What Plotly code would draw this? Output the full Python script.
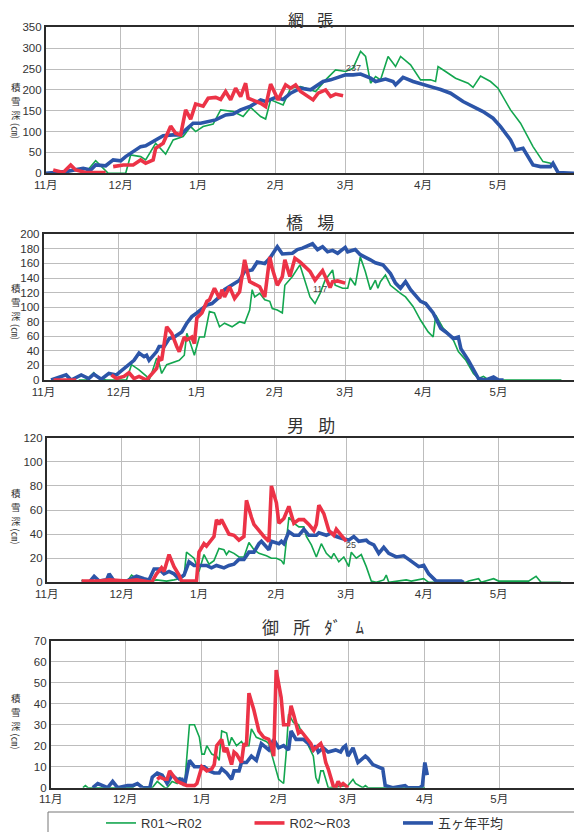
import plotly.graph_objects as go

# The page shows the figure 8px in from the top-left corner of the window,
# so the figure is sized to the visible area and positions are given in
# window pixels minus that offset.
OFF = 8
W, H = 582 - OFF, 832 - OFF

# ---------------- axis labels ----------------
month_ticks = [0, 30, 61, 92, 120, 151, 181]
month_labels = ["11月", "12月", "1月", "2月", "3月", "4月", "5月"]
titles = ["網\u2002\u2004張", "橋\u2002\u2004場", "男\u2002\u2004助", "御\u2002\u2004所\u2002\u2004ﾀﾞ\u2002\u2004ﾑ"]
series_names = ["R01～R02", "R02～R03", "五ヶ年平均"]
ytitle_chars = ["積", "雪", "深"]
ytitle_unit = "(㎝)"
y_max = [350, 200, 120, 70]
y_step = [50, 20, 20, 10]

# ---------------- 網張 ----------------
ami_g_day = [14, 16, 20, 23, 25, 32, 34, 38, 40, 44, 48, 51, 55, 58, 60, 63, 67, 70, 75, 79, 82, 86, 88, 90, 95, 98, 102, 108, 112, 116, 120, 123, 126, 128, 130, 132, 134, 137, 140, 142, 146, 150, 154, 156, 157, 160, 164, 169, 171, 174, 178, 181, 186, 190, 195, 199, 202, 204, 205]
ami_g_val = [0, 2, 30, 12, 0, 0, 44, 40, 32, 72, 46, 80, 88, 112, 100, 112, 118, 152, 148, 136, 158, 136, 130, 176, 164, 204, 208, 196, 224, 248, 244, 252, 292, 280, 216, 232, 224, 280, 256, 280, 260, 224, 224, 220, 256, 244, 228, 216, 206, 233, 220, 204, 152, 120, 64, 28, 24, 12, 0]
ami_r_day = [3, 7, 10, 12, 16, 24, 25, 27, 31, 35, 38, 40, 43, 44, 47, 50, 52, 54, 56, 58, 60, 63, 65, 68, 70, 72, 74, 76, 78, 80, 81, 86, 88, 90, 93, 96, 98, 100, 102, 107, 109, 112, 114, 116, 119]
ami_r_val = [8, 2, 20, 8, 2, 2, None, 16, 20, 20, 32, 24, 32, 60, 72, 113, 96, 92, 152, 130, 166, 161, 180, 182, 177, 196, 176, 204, 184, 216, 180, 168, 160, 214, 176, 212, 204, 212, 196, 176, 192, 200, 184, 190, 186]
ami_b_day = [0, 8, 15, 18, 20, 24, 27, 30, 32, 35, 38, 40, 43, 47, 51, 54, 56, 59, 62, 66, 68, 72, 75, 78, 82, 86, 88, 92, 95, 98, 102, 106, 111, 114, 117, 120, 123, 126, 130, 132, 136, 139, 140, 143, 147, 151, 155, 158, 162, 167, 171, 175, 179, 182, 186, 188, 191, 195, 198, 202, 203, 205, 212]
ami_b_val = [0, 4, 12, 8, 20, 18, 32, 30, 40, 52, 64, 66, 76, 90, 92, 92, 104, 120, 120, 124, 128, 140, 142, 152, 161, 176, 172, 182, 177, 192, 204, 200, 220, 224, 230, 236, 236, 238, 228, 220, 226, 220, 212, 230, 220, 212, 206, 201, 192, 172, 160, 148, 132, 112, 80, 56, 60, 20, 16, 16, 24, 2, 0]

# ---------------- 橋場 ----------------
has_g_day = [14, 17, 20, 22, 25, 33, 35, 38, 41, 42, 43, 45, 46, 47, 49, 51, 54, 56, 57, 58, 60, 62, 64, 66, 68, 70, 72, 75, 78, 80, 82, 83, 84, 86, 88, 90, 91, 93, 95, 96, 99, 102, 104, 106, 108, 110, 112, 115, 116, 119, 121, 122, 124, 126, 128, 130, 132, 133, 134, 136, 138, 140, 142, 144, 147, 150, 153, 155, 156, 159, 161, 163, 165, 168, 171, 173, 175, 177, 206]
has_g_val = [0, 0, 10, 2, 0, 0, 21, 14, 5, 0, 9, 30, 23, 9, 21, 23, 27, 34, 64, 55, 34, 59, 59, 94, 92, 73, 78, 73, 80, 78, 96, 124, 114, 119, 110, 108, 98, 96, 92, 130, 142, 158, 135, 114, 105, 119, 137, 151, 130, 126, 126, 140, 130, 169, 149, 124, 137, 126, 135, 144, 130, 124, 119, 114, 101, 82, 66, 59, 89, 71, 64, 55, 39, 27, 9, 2, 5, 0, 0]
has_r_day = [4, 13, 20, 27, 29, 32, 34, 36, 38, 41, 43, 45, 46, 47, 49, 51, 53, 54, 56, 57, 59, 60, 61, 63, 65, 66, 68, 70, 71, 72, 74, 76, 78, 80, 82, 86, 88, 90, 91, 93, 95, 96, 98, 100, 102, 104, 106, 108, 111, 113, 114, 115, 117, 120]
has_r_val = [0, 0, None, 7, 2, 5, 10, 2, 5, 0, 9, 16, 30, 27, 73, 64, 46, 39, 59, 55, 59, 50, 85, 92, 108, 110, 126, 112, 124, 114, 128, 112, 121, 165, 135, 128, 114, 169, 153, 130, 142, 165, 142, 167, 162, 156, 149, 137, 150, 135, 127, 135, 136, 133]
has_b_day = [3, 9, 11, 15, 18, 20, 23, 26, 29, 31, 34, 36, 38, 40, 41, 42, 45, 46, 48, 50, 52, 55, 57, 59, 61, 63, 65, 67, 70, 72, 75, 78, 80, 83, 85, 88, 90, 93, 95, 99, 101, 103, 107, 109, 111, 113, 115, 117, 120, 121, 124, 126, 130, 132, 135, 138, 140, 142, 144, 146, 150, 152, 155, 158, 160, 163, 165, 166, 169, 173, 176, 179, 181, 183]
has_b_val = [0, 7, 0, 7, 2, 8, 1, 9, 7, 13, 21, 27, 37, 32, 34, 27, 39, 46, 46, 57, 59, 66, 78, 87, 92, 98, 103, 105, 114, 124, 130, 137, 149, 151, 162, 160, 167, 183, 173, 174, 179, 181, 187, 179, 183, 176, 178, 174, 182, 176, 179, 172, 165, 161, 158, 146, 133, 126, 135, 124, 108, 105, 92, 71, 66, 57, 59, 43, 27, 2, 0, 4, 0, 0]

# ---------------- 男助 ----------------
osu_g_day = [14, 15, 32, 33, 34, 36, 40, 44, 48, 51, 53, 55, 56, 59, 61, 63, 65, 67, 69, 71, 72, 73, 75, 77, 79, 81, 83, 85, 88, 90, 92, 94, 95, 97, 99, 101, 103, 104, 106, 108, 110, 112, 114, 115, 117, 119, 121, 122, 124, 126, 128, 130, 132, 135, 136, 137, 144, 146, 149, 151, 153, 168, 169, 173, 174, 179, 181, 193, 196, 198, 206]
osu_g_val = [2, 0, 0, 3, 6, 3, 0, 2, 1, 2, 3, 5, 25, 20, 9, 23, 15, 18, 28, 27, 23, 26, 24, 21, 21, 33, 27, 24, 22, 20, 20, 18, 15, 54, 49, 46, 46, 38, 31, 21, 32, 24, 20, 24, 17, 21, 13, 25, 20, 23, 13, 1, 0, 2, 6, 0, 2, 1, 2, 3, 0, 0, 1, 3, 0, 3, 1, 1, 5, 0, 0]
osu_r_day = [14, 21, 25, 32, 36, 42, 44, 46, 47, 49, 51, 53, 54, 60, 61, 63, 64, 67, 68, 69, 70, 73, 75, 77, 79, 80, 82, 83, 87, 89, 90, 92, 93, 95, 97, 99, 101, 103, 105, 107, 108, 109, 111, 113, 115, 116, 118, 120]
osu_r_val = [1, 1, 2, 1, 2, 0, 7, 12, 9, 23, 13, 6, 1, 1, 25, 32, 30, 38, 52, 48, 52, 40, 39, 35, 38, 68, 54, 48, 38, 34, 80, 66, 49, 53, 63, 49, 52, 52, 48, 43, 48, 64, 57, 43, 39, 44, 39, 34]
osu_b_day = [14, 17, 19, 21, 24, 25, 27, 32, 34, 36, 39, 41, 43, 45, 47, 49, 51, 53, 55, 57, 59, 61, 64, 66, 68, 71, 73, 75, 77, 79, 81, 83, 85, 86, 89, 90, 93, 94, 95, 97, 99, 101, 103, 105, 108, 109, 112, 114, 116, 119, 121, 123, 125, 128, 129, 131, 133, 135, 137, 140, 143, 145, 147, 149, 151, 153, 156, 159, 161, 164, 166, 167]
osu_b_val = [0, 0, 5, 1, 2, 7, 1, 1, 3, 5, 3, 2, 11, 11, 7, 9, 7, 3, 6, 17, 14, 14, 14, 12, 14, 12, 14, 15, 19, 19, 25, 25, 32, 34, 27, 34, 32, 34, 32, 42, 39, 39, 44, 39, 39, 41, 39, 41, 38, 36, 35, 38, 34, 35, 33, 31, 24, 29, 24, 21, 22, 19, 16, 13, 14, 7, 1, 1, 1, 1, 1, 0]

# ---------------- 御所ダム ----------------
gos_g_day = [13, 14, 15, 33, 35, 38, 41, 43, 46, 47, 49, 51, 52, 54, 56, 58, 60, 61, 62, 63, 65, 67, 68, 69, 71, 72, 73, 75, 77, 78, 80, 81, 83, 85, 87, 88, 90, 92, 94, 95, 96, 98, 100, 101, 103, 104, 106, 107, 108, 109, 110, 111, 112, 120, 122, 123, 126, 127, 128, 151]
gos_g_val = [0, 1, 0, 0, 2, 0, 0, 3, 0, 0, 3, 2, 5, 1, 30, 30, 24, 16, 16, 20, 16, 15, 13, 27, 26, 20, 24, 20, 22, 20, 20, 28, 24, 23, 22, 21, 12, 4, 2, 16, 35, 31, 30, 27, 24, 20, 15, 5, 2, 8, 8, 4, 0, 1, 4, 2, 0, 1, 0, 0]
gos_r_day = [43, 44, 46, 47, 48, 50, 51, 53, 55, 58, 59, 61, 63, 65, 66, 67, 69, 70, 71, 73, 74, 75, 77, 78, 79, 80, 82, 84, 86, 88, 89, 90, 91, 93, 94, 96, 97, 98, 100, 101, 103, 105, 106, 108, 109, 110, 111, 112, 114, 115, 116, 117, 118, 120]
gos_r_val = [4, 5, 4, 4, 8, 5, 3, 2, 1, 1, 2, 10, 8, 9, 11, 20, 23, 17, 19, 11, 17, 16, 12, 21, 20, 45, 37, 27, 24, 23, 20, 15, 56, 43, 30, 30, 39, 35, 26, 27, 24, 21, 18, 20, 21, 18, 12, 9, 1, 0, 3, 1, 2, 0]
gos_b_day = [17, 19, 21, 23, 25, 27, 31, 33, 35, 37, 40, 41, 43, 45, 47, 49, 51, 53, 54, 56, 58, 60, 62, 64, 66, 68, 69, 71, 73, 74, 76, 77, 79, 81, 83, 85, 88, 90, 92, 94, 96, 97, 99, 102, 104, 106, 107, 108, 110, 112, 115, 117, 118, 119, 120, 122, 124, 127, 128, 130, 132, 134, 135, 138, 143, 144, 149, 150, 151, 152]
gos_b_val = [0, 2, 1, 0, 3, 0, 1, 1, 2, 0, 0, 5, 7, 6, 2, 6, 4, 4, 1, 13, 10, 10, 10, 8, 7, 7, 9, 7, 4, 8, 8, 12, 12, 15, 13, 21, 18, 23, 19, 20, 18, 27, 23, 23, 21, 18, 20, 17, 19, 17, 18, 17, 19, 20, 15, 19, 12, 15, 14, 11, 10, 9, 1, 0, 1, 0, 0, 1, 12, 6]

panels = [
    (ami_g_day, ami_g_val, ami_r_day, ami_r_val, ami_b_day, ami_b_val),
    (has_g_day, has_g_val, has_r_day, has_r_val, has_b_day, has_b_val),
    (osu_g_day, osu_g_val, osu_r_day, osu_r_val, osu_b_day, osu_b_val),
    (gos_g_day, gos_g_val, gos_r_day, gos_r_val, gos_b_day, gos_b_val),
]

# value labels written on the charts (panel, day, value, text)
value_notes = [(0, 123, 252, "237"), (1, 110, 125, "117"), (2, 122, 31, "25")]

# ---------------- styling / layout ----------------
GREEN, RED, BLUE = "#13a64f", "#ec3347", "#2c55a8"
TXT = "#333333"
FONT = "Liberation Sans, Noto Sans CJK JP, sans-serif"
CJK = "Noto Sans CJK JP, sans-serif"

# plot-area rectangles in window pixels: (left, top, right, bottom)
boxes = [(45.7, 27.3, 575.5, 173.3),
         (43.5, 234.3, 576.5, 380.0),
         (46.7, 437.7, 576.0, 582.3),
         (50.7, 640.7, 576.0, 787.7)]
title_y = [19, 221, 424, 626]
title_size = [16, 17, 17, 17]
ylab_mid = [101, 302, 506.5, 711.5]
ylab_step = 14
ylab_unit_off = 30
ylab_x = 16

def px(x):
    return (x - OFF) / W

def py(y):
    return 1 - (y - OFF) / H

fig = go.Figure()
layout = dict(
    width=W, height=H, autosize=False,
    margin=dict(l=0, r=0, t=0, b=0, pad=0, autoexpand=False),
    paper_bgcolor="white", plot_bgcolor="white",
    showlegend=True,
    legend=dict(orientation="h", x=px(101), xanchor="left", y=py(823), yanchor="middle",
                entrywidth=103.5, entrywidthmode="pixels", bgcolor="rgba(0,0,0,0)",
                font=dict(family=FONT, size=13, color=TXT), traceorder="normal"),
)
annotations = []
shapes = []

for i, (gd, gv, rd, rv, bd, bv) in enumerate(panels):
    n = "" if i == 0 else str(i + 1)
    xa, ya = "x" + n, "y" + n
    show = i == 0
    fig.add_trace(go.Scatter(x=gd, y=gv, mode="lines", name=series_names[0], legendrank=1,
                             line=dict(color=GREEN, width=1.6), xaxis=xa, yaxis=ya,
                             showlegend=show, connectgaps=False))
    fig.add_trace(go.Scatter(x=bd, y=bv, mode="lines", name=series_names[2], legendrank=3,
                             line=dict(color=BLUE, width=3.6), xaxis=xa, yaxis=ya,
                             showlegend=show, connectgaps=False))
    fig.add_trace(go.Scatter(x=rd, y=rv, mode="lines", name=series_names[1], legendrank=2,
                             line=dict(color=RED, width=3.6), xaxis=xa, yaxis=ya,
                             showlegend=show, connectgaps=False))
    l, t, r, b = boxes[i]
    common = dict(showline=True, linecolor="#2b2b2b", linewidth=1.5, mirror=True,
                  showgrid=True, gridcolor="#bdbdbd", gridwidth=1, zeroline=False,
                  automargin=False,
                  ticks="", tickfont=dict(family=FONT, size=11.5, color=TXT), fixedrange=True)
    layout["xaxis" + n] = dict(domain=[px(l), px(r)], range=[0, 212], anchor=ya,
                               tickmode="array", tickvals=month_ticks, ticktext=month_labels,
                               **common)
    layout["yaxis" + n] = dict(domain=[py(b), py(t)], range=[0, y_max[i]], anchor=xa,
                               tickmode="linear", tick0=0, dtick=y_step[i], **common)
    annotations.append(dict(text=titles[i], x=px((l + r) / 2), y=py(title_y[i]),
                            xref="paper", yref="paper", showarrow=False,
                            font=dict(family=CJK, size=title_size[i], color=TXT),
                            xanchor="center", yanchor="middle"))
    for j, ch in enumerate(ytitle_chars):
        annotations.append(dict(text=ch, x=px(ylab_x),
                                y=py(ylab_mid[i] + (j - 1) * ylab_step),
                                xref="paper", yref="paper", showarrow=False,
                                font=dict(family=CJK, size=9.5, color=TXT),
                                xanchor="center", yanchor="middle"))
    annotations.append(dict(text=ytitle_unit, x=px(ylab_x), y=py(ylab_mid[i] + ylab_unit_off),
                            xref="paper", yref="paper", showarrow=False, textangle=90,
                            font=dict(family=CJK, size=9.5, color=TXT),
                            xanchor="center", yanchor="middle"))

for k, d, v, txt in value_notes:
    n = "" if k == 0 else str(k + 1)
    annotations.append(dict(text=txt, x=d, y=v, xref="x" + n, yref="y" + n, showarrow=False,
                            font=dict(family=FONT, size=9, color="#444"),
                            xanchor="center", yanchor="middle"))

# right side strip and legend frame
shapes.append(dict(type="rect", xref="paper", yref="paper", x0=px(578.5), x1=1, y0=0, y1=1,
                   fillcolor="#c8e6f8", line=dict(width=0), layer="below"))
shapes.append(dict(type="rect", xref="paper", yref="paper", x0=px(48), x1=px(576),
                   y0=py(845), y1=py(812), fillcolor="rgba(0,0,0,0)",
                   line=dict(color="#777777", width=1)))

layout["annotations"] = annotations
layout["shapes"] = shapes
fig.update_layout(**layout)
fig.write_html("out.html")
